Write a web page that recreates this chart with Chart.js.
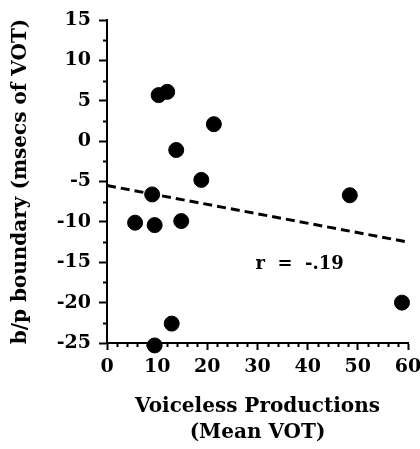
<!DOCTYPE html>
<html>
<head>
<meta charset="utf-8">
<script src="https://cdn.jsdelivr.net/npm/chart.js@4/dist/chart.umd.min.js"></script>
<style>
  html, body { margin: 0; padding: 0; background: #fff; }
  #wrap { width: 420px; height: 449px; }
</style>
</head>
<body>
<div id="wrap"><canvas id="myChart" width="420" height="449"></canvas></div>
<script>
// mean VOT of voiceless productions (x) vs b/p boundary (y)
const meanVot = [10.3, 12.0, 21.3, 13.8, 18.8, 9.0, 48.4, 5.6, 9.5, 14.8, 58.8, 12.9, 9.5];
const boundary = [5.7, 6.1, 2.1, -1.1, -4.8, -6.6, -6.7, -10.1, -10.4, -9.9, -20.0, -22.6, -25.3];

// regression line end points
const fitX = [0, 60];
const fitY = [-5.5, -12.5];

const rText = 'r  =  -.19';
const rPos = [38.4, -15.3];

const xTicks = [0, 10, 20, 30, 40, 50, 60];
const yTicks = [15, 10, 5, 0, -5, -10, -15, -20, -25];

const serif = '"DejaVu Serif", serif';

const pts = meanVot.map((v, i) => ({ x: v, y: boundary[i] }));
const fit = fitX.map((v, i) => ({ x: v, y: fitY[i] }));

// small ticks between the labelled ones, plus the r label
const extras = {
  id: 'extras',
  afterDraw(chart) {
    const ctx = chart.ctx;
    const xs = chart.scales.x;
    const ys = chart.scales.y;
    ctx.save();
    ctx.strokeStyle = '#000';
    ctx.lineWidth = 2;
    ctx.beginPath();
    for (let v = 0; v <= 60; v += 2) {
      if (v % 10 === 0) continue;
      const px = Math.round(xs.getPixelForValue(v)) + 0.5;
      ctx.moveTo(px, ys.bottom);
      ctx.lineTo(px, ys.bottom + 4);
    }
    for (let v = -25; v <= 15; v += 2.5) {
      if (v % 5 === 0) continue;
      const py = Math.round(ys.getPixelForValue(v)) + 0.5;
      ctx.moveTo(xs.left, py);
      ctx.lineTo(xs.left - 4, py);
    }
    ctx.stroke();
    ctx.fillStyle = '#000';
    ctx.font = 'bold 18px ' + serif;
    ctx.textAlign = 'center';
    ctx.textBaseline = 'middle';
    ctx.fillText(rText, xs.getPixelForValue(rPos[0]), ys.getPixelForValue(rPos[1]));
    ctx.restore();
  }
};

function makeChart() {
  const ctx = document.getElementById('myChart').getContext('2d');
  return new Chart(ctx, {
    type: 'scatter',
    data: {
      datasets: [{
        data: pts,
        backgroundColor: '#000',
        borderColor: '#000',
        pointRadius: 7.5,
        pointHoverRadius: 7.5,
        clip: false
      }, {
        type: 'line',
        data: fit,
        borderColor: '#000',
        borderWidth: 3,
        borderDash: [9, 5],
        pointRadius: 0,
        fill: false
      }]
    },
    options: {
      responsive: false,
      animation: false,
      events: [],
      layout: { padding: { top: 20, right: 0, left: 0, bottom: 0 } },
      plugins: { legend: { display: false }, tooltip: { enabled: false } },
      scales: {
        x: {
          type: 'linear',
          min: 0,
          max: 60,
          afterBuildTicks: s => { s.ticks = xTicks.map(v => ({ value: v })); },
          afterFit: s => { s.height = 106; s.paddingRight = 12; },
          border: { color: '#000', width: 2 },
          grid: { drawOnChartArea: false, color: '#000', tickLength: 7, tickWidth: 2 },
          ticks: { color: '#000', font: { family: serif, size: 19, weight: 'bold' }, padding: 6, maxRotation: 0 },
          title: {
            display: true,
            text: ['Voiceless Productions', '(Mean VOT)'],
            color: '#000',
            font: { family: serif, size: 20, weight: 'bold', lineHeight: 1.3 },
            padding: { top: 4, bottom: 3 }
          }
        },
        y: {
          type: 'linear',
          min: -25,
          max: 15,
          afterBuildTicks: s => { s.ticks = yTicks.map(v => ({ value: v })); },
          afterFit: s => { s.width = 107; },
          border: { color: '#000', width: 2 },
          grid: { drawOnChartArea: false, color: '#000', tickLength: 8, tickWidth: 2 },
          ticks: { color: '#000', font: { family: serif, size: 19, weight: 'bold' }, padding: 8 },
          title: {
            display: true,
            text: 'b/p boundary (msecs of VOT)',
            color: '#000',
            font: { family: serif, size: 20, weight: 'bold' },
            padding: { top: 9, bottom: 4 }
          }
        }
      }
    },
    plugins: [extras]
  });
}

const chart = makeChart();
</script>
</body>
</html>
